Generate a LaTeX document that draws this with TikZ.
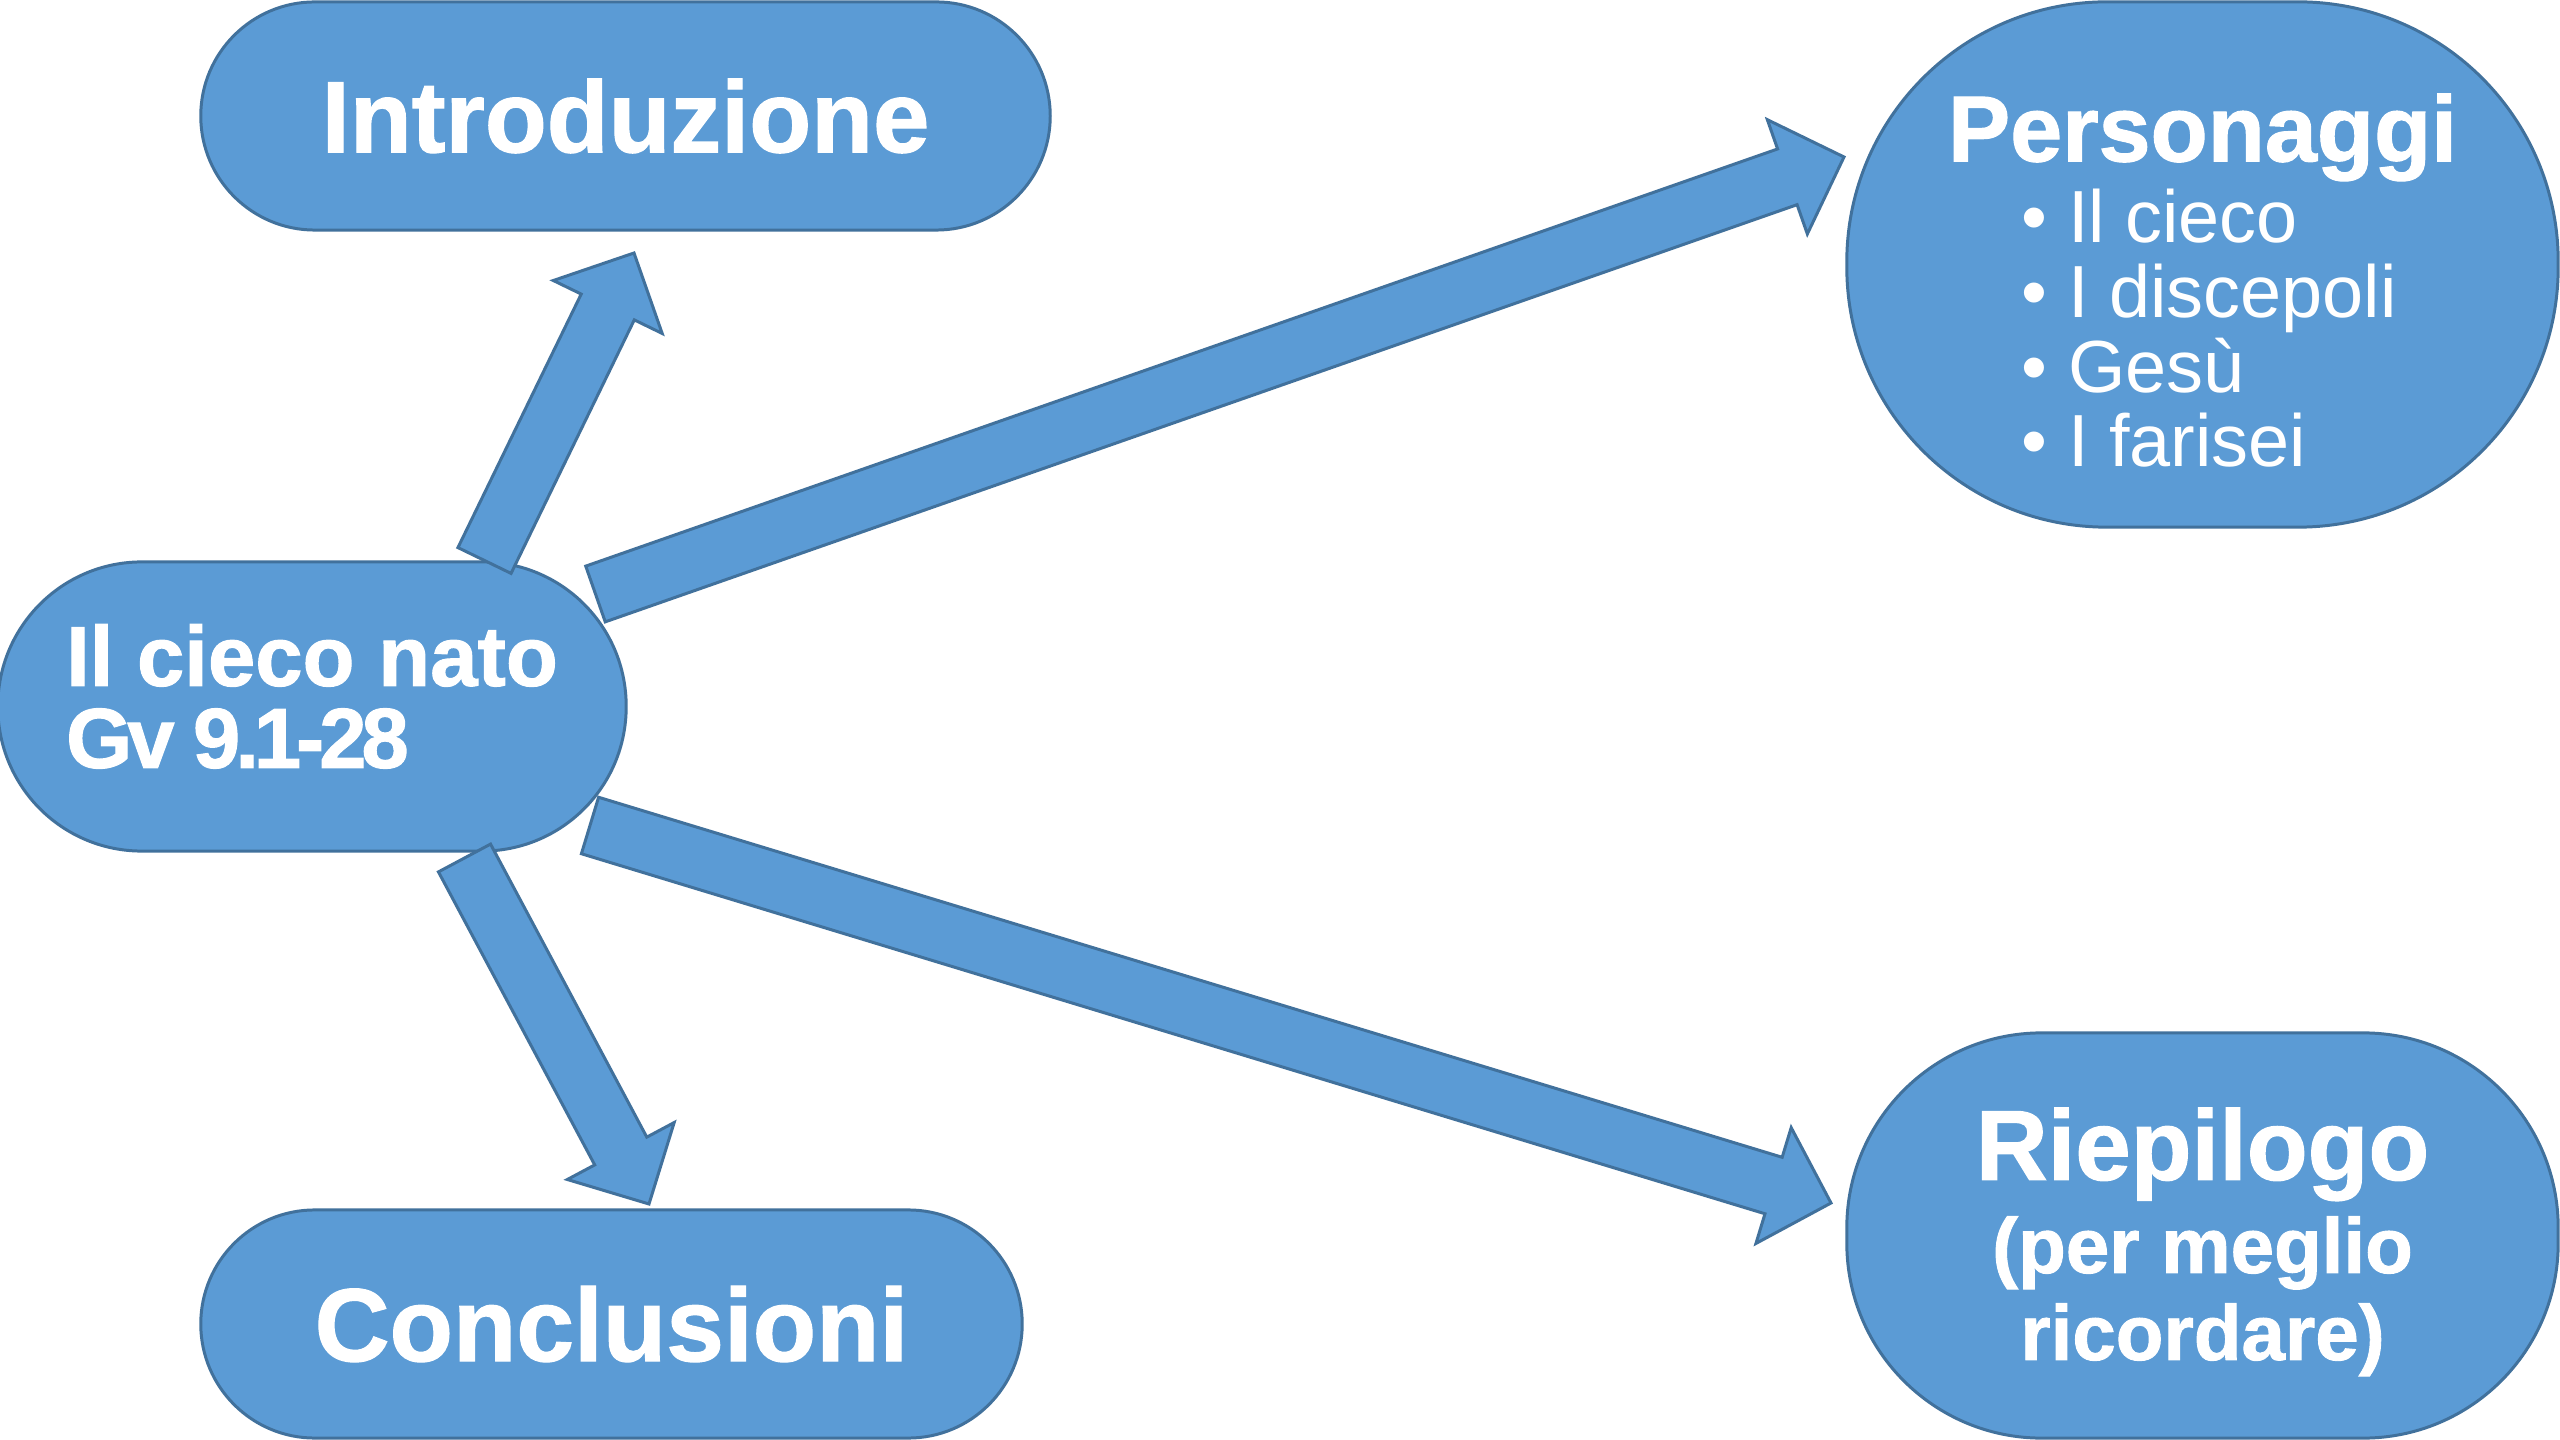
\documentclass[tikz,border=0pt]{standalone}
\usepackage{fontspec}
\setmainfont{Liberation Sans}[BoldFeatures={FakeBold=1.2}]
\usetikzlibrary{calc}
\definecolor{boxfill}{HTML}{5B9BD5}
\definecolor{boxline}{HTML}{41719C}

\begin{document}
\begin{tikzpicture}[x=0.01cm,y=-0.01cm,
	box/.style={rectangle,draw=boxline,fill=boxfill,line width=0.85pt,text=white,inner sep=0pt},
	blockarrow/.style={draw=boxline,fill=boxfill,line width=0.85pt,line join=miter}]
	\path[use as bounding box,fill=white] (0,0) rectangle (2560,1440);

	\node[box,minimum width=6.28cm,minimum height=2.89cm,rounded corners=1.44cm,align=left,
		font=\bfseries\fontsize{24.2}{23.3}\selectfont] (cieco) at (312,706.5)
		{Il cieco nato\\{\addfontfeature{LetterSpace=-6}Gv 9.1-28}\rule[-0.21cm]{0pt}{0.21cm}};
	\node[box,minimum width=8.49cm,minimum height=2.28cm,rounded corners=1.14cm,
		font=\bfseries\fontsize{28.8}{30}\selectfont] (intro) at (625.5,116) {Introduzione};
	\node[box,minimum width=8.21cm,minimum height=2.28cm,rounded corners=1.14cm,
		font=\bfseries\fontsize{29.5}{30}\selectfont] (concl) at (611.5,1324) {Conclusioni};
	\node[box,minimum width=7.11cm,minimum height=5.25cm,rounded corners=2.6cm,align=left,
		font=\fontsize{21}{21.3}\selectfont] (person) at (2202.5,264.5)
		{{\bfseries\fontsize{26.6}{27}\selectfont\rule{0pt}{1cm}Personaggi}\\[0.06cm]
		\hspace*{0.74cm}\textbullet\ Il cieco\\
		\hspace*{0.74cm}\textbullet\ I discepoli\\
		\hspace*{0.74cm}\textbullet\ Gesù\\
		\hspace*{0.74cm}\textbullet\ I farisei};
	\node[box,minimum width=7.11cm,minimum height=4.05cm,rounded corners=1.95cm,align=center,
		font=\bfseries\fontsize{22.2}{24.75}\selectfont] (riep) at (2202.5,1235.5)
		{{\fontsize{28.3}{28}\selectfont\rule{0pt}{0.85cm}Riepilogo}\\[0.06cm](per meglio\\ricordare)};

	\coordinate (intro-tail) at (484.5,560.5);
	\coordinate (intro-tip) at (634,253);
	\coordinate (person-tail) at (595.5,594);
	\coordinate (person-tip) at (1844,157);
	\coordinate (riep-tail) at (590,825.5);
	\coordinate (riep-tip) at (1831,1203);
	\coordinate (concl-tail) at (464.5,858);
	\coordinate (concl-tip) at (649,1204);

	\foreach \a in {intro,person,riep,concl} {
		\coordinate (\a-head) at ($(\a-tip)!0.6cm!(\a-tail)$);
		\path[blockarrow] ($(\a-tail)!0.295cm!90:(\a-tip)$) -- ($(\a-head)!0.295cm!90:(\a-tip)$)
			-- ($(\a-head)!0.605cm!90:(\a-tip)$) -- (\a-tip)
			-- ($(\a-head)!0.605cm!-90:(\a-tip)$) -- ($(\a-head)!0.295cm!-90:(\a-tip)$)
			-- ($(\a-tail)!0.295cm!-90:(\a-tip)$) -- cycle;
		}
\end{tikzpicture}
\end{document}
